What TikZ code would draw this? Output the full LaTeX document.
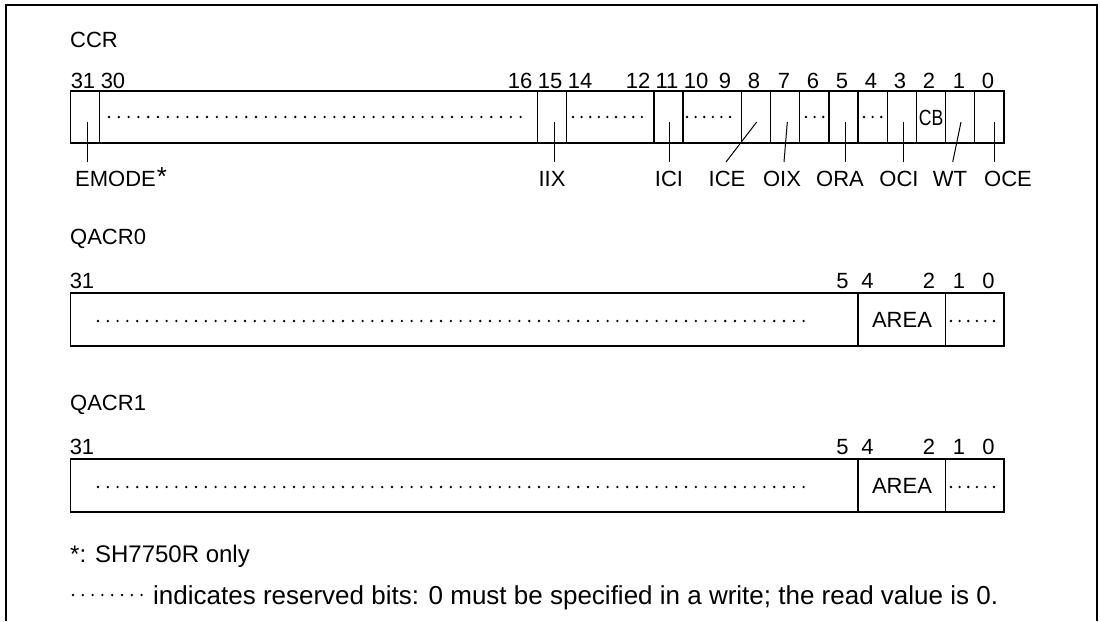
\documentclass[tikz,border=0pt]{standalone}
\usepackage{fontspec}
\setmainfont{Liberation Sans}
\usetikzlibrary{positioning}

\begin{document}
\begin{tikzpicture}[x=1pt,y=-1pt,
  txt/.style={inner sep=0pt,font=\fontsize{22}{26}\selectfont},
  bitno/.style={txt,anchor=base},
  fieldname/.style={txt,anchor=base},
  regbox/.style={line width=1.3pt},
  leader/.style={line width=1pt},
  resv/.style={line width=2.6pt,line cap=round,dash pattern=on 0pt off 9.8pt},
  resvshort/.style={resv,dash pattern=on 0pt off 8.6pt}]
\useasboundingbox (0,0) rectangle (1100,621);
\draw[line width=2.5pt] (6,621) -- (6,5) -- (1097,5) -- (1097,621);

% CCR
\node[txt,anchor=base west] (ccr) at (70,47) {CCR};
\node[bitno] (c31) at (83,88) {31};
\node[bitno] (c30) at (113,88) {30};
\node[bitno] (c16) at (520,88) {16};
\node[bitno] (c15) at (550,88) {15};
\node[bitno] (c14) at (580,88) {14};
\node[bitno] (c12) at (638,88) {12};
\node[bitno] (c11) at (667,88) {11};
\node[bitno] (c10) at (696,88) {10};
\node[bitno] (c9) at (725,88) {9};
\node[bitno] (c8) at (754,88) {8};
\node[bitno] (c7) at (784,88) {7};
\node[bitno] (c6) at (813,88) {6};
\node[bitno] (c5) at (842,88) {5};
\node[bitno] (c4) at (871,88) {4};
\node[bitno] (c3) at (900,88) {3};
\node[bitno] (c2) at (929,88) {2};
\node[bitno] (c1) at (959,88) {1};
\node[bitno] (c0) at (988,88) {0};

\draw[regbox] (70.6,91) rectangle (1004,143);
\draw[regbox] (99.7,91) -- (99.7,143);
\draw[regbox] (537.3,91) -- (537.3,143);
\draw[regbox] (566.5,91) -- (566.5,143);
\draw[regbox] (654.0,91) -- (654.0,143);
\draw[regbox] (683.1,91) -- (683.1,143);
\draw[regbox] (741.5,91) -- (741.5,143);
\draw[regbox] (770.6,91) -- (770.6,143);
\draw[regbox] (799.8,91) -- (799.8,143);
\draw[regbox] (829.0,91) -- (829.0,143);
\draw[regbox] (858.1,91) -- (858.1,143);
\draw[regbox] (887.3,91) -- (887.3,143);
\draw[regbox] (916.5,91) -- (916.5,143);
\draw[regbox] (945.6,91) -- (945.6,143);
\draw[regbox] (974.8,91) -- (974.8,143);

\draw[resv] (109,117) -- (527,117);
\draw[resvshort] (573,117) -- (643,117);
\draw[resvshort] (687,117) -- (731,117);
\draw[resvshort] (806,117) -- (824,117);
\draw[resvshort] (864,117) -- (882,117);
\node[txt] (cb) at (931.1,118) {\scalebox{0.8}[1]{CB}};

\node[fieldname,anchor=base west] (emode) at (75,186) {EMODE\kern1pt\raisebox{1pt}{\fontsize{26}{26}\selectfont *}};
\node[fieldname] (iix) at (552,186) {IIX};
\node[fieldname] (ici) at (669,186) {ICI};
\node[fieldname] (ice) at (727,186) {ICE};
\node[fieldname] (oix) at (782,186) {OIX};
\node[fieldname] (ora) at (840,186) {ORA};
\node[fieldname] (oci) at (899,186) {OCI};
\node[fieldname] (wt) at (950,186) {WT};
\node[fieldname] (oce) at (1008,186) {OCE};

\coordinate (emode top) at (87.7,122);
\coordinate (iix top) at (554,122);
\coordinate (ici top) at (669.3,122);
\coordinate (ice top) at (756.7,122);
\coordinate (oix top) at (787.3,122);
\coordinate (ora top) at (845,122);
\coordinate (oci top) at (903.3,122);
\coordinate (wt top) at (961,122);
\coordinate (oce top) at (994,122);
\draw[leader] (emode top) -- (emode top |- 0,162);
\draw[leader] (iix top) -- (iix top |- 0,162);
\draw[leader] (ici top) -- (ici top |- 0,162);
\draw[leader] (ice top) -- (726,162);
\draw[leader] (oix top) -- (784,162);
\draw[leader] (ora top) -- (ora top |- 0,162);
\draw[leader] (oci top) -- (oci top |- 0,162);
\draw[leader] (wt top) -- (952.7,162);
\draw[leader] (oce top) -- (oce top |- 0,162);

% QACR0
\node[txt,anchor=base west] (qacr0) at (70,244) {QACR0};
\node[bitno] (q0b31) at (82,288) {31};
\node[bitno] (q0b5) at (842.5,288) {5};
\node[bitno] (q0b4) at (867.5,288) {4};
\node[bitno] (q0b2) at (929,288) {2};
\node[bitno] (q0b1) at (959,288) {1};
\node[bitno] (q0b0) at (988.5,288) {0};
\draw[regbox] (70.6,293) rectangle (1004,346);
\draw[regbox] (858.1,293) -- (858.1,346);
\draw[regbox] (945.6,293) -- (945.6,346);
\draw[resv] (98,321) -- (812,321);
\draw[resvshort] (951,321) -- (995,321);
\node[txt] (area0) at (902,320) {AREA};

% QACR1
\node[txt,anchor=base west] (qacr1) at (70,410) {QACR1};
\node[bitno] (q1b31) at (82,454) {31};
\node[bitno] (q1b5) at (842.5,454) {5};
\node[bitno] (q1b4) at (867.5,454) {4};
\node[bitno] (q1b2) at (929,454) {2};
\node[bitno] (q1b1) at (959,454) {1};
\node[bitno] (q1b0) at (988.5,454) {0};
\draw[regbox] (70.6,459) rectangle (1004,512);
\draw[regbox] (858.1,459) -- (858.1,512);
\draw[regbox] (945.6,459) -- (945.6,512);
\draw[resv] (98,487) -- (812,487);
\draw[resvshort] (951,487) -- (995,487);
\node[txt] (area1) at (902,486) {AREA};

% notes
\node[txt,anchor=base west,font=\fontsize{24}{28}\selectfont] (note1) at (70,562) {*: SH7750R only};
\draw[resv] (73,595) -- (144,595);
\node[txt,anchor=base west,font=\fontsize{26}{30}\selectfont] (note2) at (153,604) {indicates reserved bits: 0 must be specified in a write; the read value is 0.};
\end{tikzpicture}
\end{document}
